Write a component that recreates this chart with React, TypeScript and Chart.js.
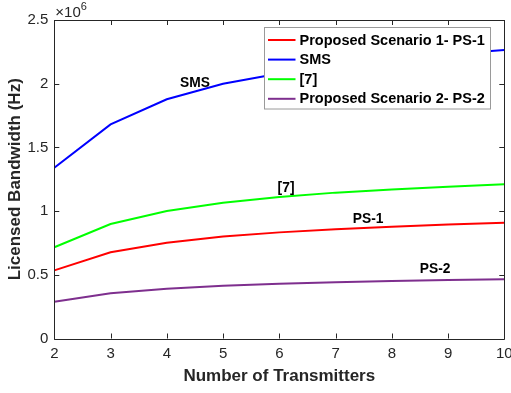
import React, { useEffect, useRef } from 'react';
import { Chart, registerables } from 'chart.js';
Chart.register(...registerables);

const transmitters = [2, 3, 4, 5, 6, 7, 8, 9, 10];
const ps1Values = [535000, 677000, 752000, 800000, 833000, 857000, 877000, 894000, 909000];
const smsValues = [1341000, 1681000, 1878000, 2000000, 2080000, 2142000, 2192000, 2232000, 2265000];
const ref7Values = [716000, 899000, 1000000, 1066000, 1110000, 1145000, 1170000, 1191000, 1210000];
const ps2Values = [289000, 355000, 391000, 414000, 430000, 442000, 451000, 459000, 465000];

const seriesLabels = ['Proposed Scenario 1- PS-1', 'SMS', '[7]', 'Proposed Scenario 2- PS-2'];
const seriesColors = ['#ff0000', '#0000ff', '#00ff00', '#7e2f8e'];

const annotationTexts = ['SMS', '[7]', 'PS-1', 'PS-2'];
const annotationX = [4.5, 6.12, 7.58, 8.77];
const annotationY = [2005000, 1177000, 938000, 542000];

const xTicks = [2, 3, 4, 5, 6, 7, 8, 9, 10];
const yTicks = [0, 500000, 1000000, 1500000, 2000000, 2500000];

const FONT = "'Liberation Sans', Arial, Helvetica, sans-serif";
const AXIS_COLOR = '#262626';

const decorPlugin = {
  id: 'decor',
  afterDraw(chart: any) {
    const { ctx, chartArea: a, scales } = chart;
    const xs = scales.x;
    const ys = scales.y;
    ctx.save();
    // box frame
    ctx.strokeStyle = AXIS_COLOR;
    ctx.lineWidth = 1;
    ctx.beginPath();
    ctx.rect(Math.round(a.left) + 0.5, Math.round(a.top) + 0.5, Math.round(a.right - a.left), Math.round(a.bottom - a.top));
    ctx.stroke();
    // inward ticks
    const tl = 5;
    ctx.beginPath();
    xTicks.forEach((v) => {
      const px = Math.round(xs.getPixelForValue(v)) + 0.5;
      ctx.moveTo(px, a.bottom);
      ctx.lineTo(px, a.bottom - tl);
      ctx.moveTo(px, a.top);
      ctx.lineTo(px, a.top + tl);
    });
    yTicks.forEach((v) => {
      const py = Math.round(ys.getPixelForValue(v)) + 0.5;
      ctx.moveTo(a.left, py);
      ctx.lineTo(a.left + tl, py);
      ctx.moveTo(a.right, py);
      ctx.lineTo(a.right - tl, py);
    });
    ctx.stroke();

    // exponent label
    ctx.fillStyle = AXIS_COLOR;
    ctx.textBaseline = 'alphabetic';
    ctx.textAlign = 'left';
    ctx.font = `15px ${FONT}`;
    ctx.fillText('\u00d710', a.left + 1, a.top - 3);
    const w = ctx.measureText('\u00d710').width;
    ctx.font = `11px ${FONT}`;
    ctx.fillText('6', a.left + 1 + w, a.top - 10);

    // annotations
    ctx.fillStyle = '#000000';
    ctx.font = `bold 13.8px ${FONT}`;
    ctx.textAlign = 'center';
    ctx.textBaseline = 'middle';
    annotationTexts.forEach((t, i) => {
      ctx.fillText(t, xs.getPixelForValue(annotationX[i]), ys.getPixelForValue(annotationY[i]));
    });

    // legend
    const lx = 264.5, ly = 27.5, lw = 226, lh = 81.5;
    ctx.fillStyle = '#ffffff';
    ctx.fillRect(lx, ly, lw, lh);
    ctx.strokeStyle = '#9a9a9a';
    ctx.lineWidth = 1;
    ctx.strokeRect(lx, ly, lw, lh);
    ctx.font = `bold 14.5px ${FONT}`;
    ctx.textAlign = 'left';
    ctx.textBaseline = 'middle';
    chart.data.datasets.forEach((ds: any, i: number) => {
      const cy = 40 + i * 19.6;
      ctx.strokeStyle = ds.borderColor;
      ctx.lineWidth = 2;
      ctx.beginPath();
      ctx.moveTo(268, cy);
      ctx.lineTo(295.5, cy);
      ctx.stroke();
      ctx.fillStyle = '#000000';
      ctx.fillText(ds.label, 299.5, cy + 0.5);
    });
    ctx.restore();
  },
};

export default function App() {
  const canvasRef = useRef<HTMLCanvasElement | null>(null);

  useEffect(() => {
    if (!canvasRef.current) return;
    const seriesValues = [ps1Values, smsValues, ref7Values, ps2Values];
    const chart = new Chart(canvasRef.current, {
      type: 'line',
      data: {
        datasets: seriesValues.map((vals, i) => ({
          label: seriesLabels[i],
          data: transmitters.map((x, j) => ({ x, y: vals[j] })),
          borderColor: seriesColors[i],
          backgroundColor: seriesColors[i],
          borderWidth: 2,
          pointRadius: 0,
          tension: 0,
          fill: false,
        })),
      },
      options: {
        animation: false,
        responsive: false,
        maintainAspectRatio: false,
        layout: { padding: { left: 0, right: 6.7, top: 20, bottom: 0 } },
        plugins: {
          legend: { display: false },
          tooltip: { enabled: false },
        },
        scales: {
          x: {
            type: 'linear',
            min: 2,
            max: 10,
            grid: { display: false, drawTicks: false },
            border: { display: false },
            afterBuildTicks: (scale: any) => {
              scale.ticks = xTicks.map((v) => ({ value: v }));
            },
            afterFit: (scale: any) => {
              scale.height = 54.5;
              scale.paddingLeft = 0;
              scale.paddingRight = 0;
            },
            ticks: {
              color: AXIS_COLOR,
              font: { family: FONT, size: 15 },
              padding: 6,
              maxRotation: 0,
              autoSkip: false,
              callback: (v: any) => String(v),
            },
            title: {
              display: true,
              text: 'Number of Transmitters',
              color: AXIS_COLOR,
              font: { family: FONT, size: 17, weight: 'bold' },
              padding: { top: 0, bottom: 6.3 },
            },
          },
          y: {
            type: 'linear',
            min: 0,
            max: 2500000,
            grid: { display: false, drawTicks: false },
            border: { display: false },
            afterBuildTicks: (scale: any) => {
              scale.ticks = yTicks.map((v) => ({ value: v }));
            },
            afterFit: (scale: any) => {
              scale.width = 54.3;
              scale.paddingTop = 0;
              scale.paddingBottom = 0;
            },
            ticks: {
              color: AXIS_COLOR,
              font: { family: FONT, size: 15 },
              padding: 6,
              autoSkip: false,
              callback: (v: any) => String(Number(v) / 1000000),
            },
            title: {
              display: true,
              text: 'Licensed Bandwidth (Hz)',
              color: AXIS_COLOR,
              font: { family: FONT, size: 17, weight: 'bold' },
              padding: { top: 4.8, bottom: 0 },
            },
          },
        },
      },
      plugins: [decorPlugin],
    });
    return () => chart.destroy();
  }, []);

  return (
    <div style={{ position: 'fixed', left: 0, top: 0, width: 511, height: 393, background: '#fff' }}>
      <canvas ref={canvasRef} width={511} height={393} style={{ display: 'block', width: 511, height: 393 }} />
    </div>
  );
}
